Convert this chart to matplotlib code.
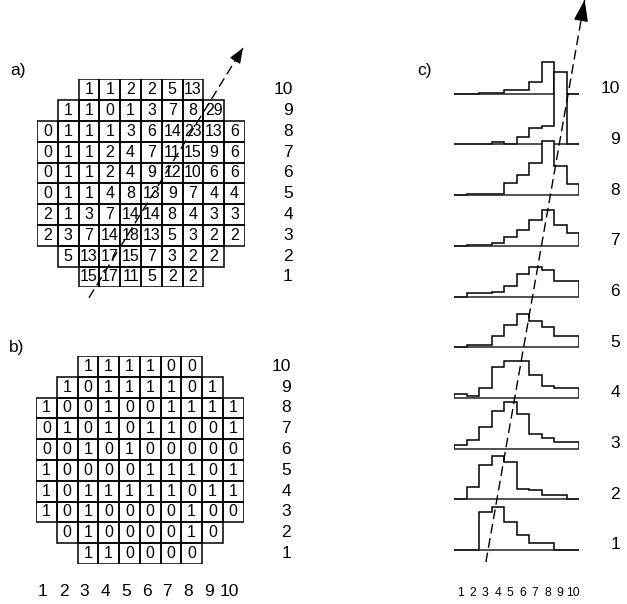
import matplotlib
matplotlib.use('Agg')
import matplotlib.pyplot as plt
from matplotlib.patches import Rectangle
import numpy as np

plt.rcParams['font.family'] = ['Liberation Sans', 'DejaVu Sans']

# ---------------- data ----------------
rows = [10, 9, 8, 7, 6, 5, 4, 3, 2, 1]
row_start_col = [3, 2, 1, 1, 1, 1, 1, 1, 2, 3]

grid_a = [
    [1, 1, 2, 2, 5, 13],
    [1, 1, 0, 1, 3, 7, 8, 29],
    [0, 1, 1, 1, 3, 6, 14, 23, 13, 6],
    [0, 1, 1, 2, 4, 7, 11, 15, 9, 6],
    [0, 1, 1, 2, 4, 9, 12, 10, 6, 6],
    [0, 1, 1, 4, 8, 13, 9, 7, 4, 4],
    [2, 1, 3, 7, 14, 14, 8, 4, 3, 3],
    [2, 3, 7, 14, 18, 13, 5, 3, 2, 2],
    [5, 13, 17, 15, 7, 3, 2, 2],
    [15, 17, 11, 5, 2, 2],
]

grid_b = [
    [1, 1, 1, 1, 0, 0],
    [1, 0, 1, 1, 1, 1, 0, 1],
    [1, 0, 0, 1, 0, 0, 1, 1, 1, 1],
    [0, 1, 0, 1, 0, 1, 1, 0, 0, 1],
    [0, 0, 1, 0, 1, 0, 0, 0, 0, 0],
    [1, 0, 0, 0, 0, 1, 1, 1, 0, 1],
    [1, 0, 1, 1, 1, 1, 1, 0, 1, 1],
    [1, 0, 1, 0, 0, 0, 0, 1, 0, 0],
    [0, 1, 0, 0, 0, 0, 1, 0],
    [1, 1, 0, 0, 0, 0],
]

col_labels = ['1', '2', '3', '4', '5', '6', '7', '8', '9', '10']
row_labels = ['10', '9', '8', '7', '6', '5', '4', '3', '2', '1']

# histogram heights (panel c), per row 10..1, bins 1..10
hist_counts = [
    [0, 0, 0.3, 0.3, 1.6, 1.6, 4.7, 12.7, 0, 0],
    [0, 0.3, 0.3, 1.1, 0, 3.1, 6.4, 7.3, 29.1, 0],
    [0, 0.3, 0.3, 0.3, 4.7, 8.0, 12.9, 21.6, 11.7, 4.3],
    [0, 0.3, 0.3, 1.3, 3.6, 6.3, 10.3, 14.5, 8.5, 5.2],
    [0, 1.3, 1.3, 2.0, 4.3, 9.1, 11.7, 10.7, 6.4, 6.4],
    [0, 0.9, 0.9, 4.3, 8.7, 13.3, 10.3, 8.0, 4.3, 4.3],
    [1.6, 0.9, 4.0, 12.3, 14.9, 14.9, 9.2, 4.9, 4.0, 4.0],
    [1.3, 3.3, 8.7, 15.1, 18.7, 14.0, 6.0, 4.4, 2.7, 2.7],
    [0, 4.9, 13.6, 17.2, 14.9, 4.3, 3.6, 1.9, 1.9, 0],
    [0, 0, 15.3, 17.3, 11.3, 6.0, 2.7, 2.7, 0, 0],
]

arrow_a = [(3.0, 0.0), (10.4, 12.0)]
arrow_c = [(3.05, 0.76), (10.95, 11.85)]

# ---------------- figure ----------------
W, H = 627, 604
fig = plt.figure(figsize=(W / 100, H / 100), dpi=100)
fig.patch.set_facecolor('white')


def px_axes(left, top, right, bottom):
    ax = fig.add_axes([left / W, 1 - bottom / H, (right - left) / W, (bottom - top) / H])
    ax.set_axis_off()
    return ax


LW = 1.1
DASH = (0, (7, 3.5))


def draw_grid(ax, grid, fs):
    ax.set_xlim(0.5, 10.5)
    ax.set_ylim(0.5, 10.5)
    for r, c0, vals in zip(rows, row_start_col, grid):
        for i, v in enumerate(vals):
            c = c0 + i
            ax.add_patch(Rectangle((c - 0.5, r - 0.5), 1, 1, fill=False,
                                   edgecolor='black', lw=LW, zorder=2))
            ax.text(c, r, str(v), ha='center', va='center', fontsize=fs, zorder=3)
    for r, lab in zip(rows, row_labels):
        ax.text(12.8, r, lab, ha='right', va='center', fontsize=12.5, clip_on=False)


# panel a
ax_a = px_axes(37, 79.3, 245, 287.3)
draw_grid(ax_a, grid_a, 11.5)
(x0, y0), (x1, y1) = arrow_a
ax_a.plot([x0, x1], [y0, y1], color='black', lw=1.0, ls=DASH, clip_on=False, zorder=5)
ax_a.annotate('', xy=(x1, y1), xytext=(x1 - (x1 - x0) * 0.02, y1 - (y1 - y0) * 0.02),
              arrowprops=dict(arrowstyle='-|>,head_length=0.5,head_width=0.2',
                              mutation_scale=18, color='black', lw=1,
                              shrinkA=0, shrinkB=0),
              annotation_clip=False, zorder=6)

# panel b
ax_b = px_axes(36, 356, 243.5, 564)
draw_grid(ax_b, grid_b, 11.5)
for k, lab in enumerate(col_labels):
    ax_b.text(k + 1 - 0.17, -0.8, lab, ha='center', va='center', fontsize=12.5, clip_on=False)

# panel c
ax_c = px_axes(454, 2.44, 579, 600.7)
ax_c.set_xlim(0.5, 10.5)
ax_c.set_ylim(0.0, 11.8)
scale = 2.5 / 50.7
edges = np.arange(0.5, 11.0, 1.0)
for r, lab, h in zip(rows, row_labels, hist_counts):
    z = 20 - 2 * r
    vals = r + np.array(h) * scale
    ax_c.stairs(vals, edges, baseline=r, fill=True, facecolor='white',
                edgecolor='none', zorder=z)
    ax_c.stairs(vals, edges, baseline=r, fill=False, color='black', lw=LW, zorder=z + 0.5)
    ax_c.plot([0.5, 10.5], [r, r], color='#222222', lw=LW, zorder=z + 0.6,
              solid_capstyle='butt')
    ax_c.text(13.78, r + 0.1, lab, ha='right', va='center', fontsize=12.5, clip_on=False)
for k, lab in enumerate(col_labels):
    ax_c.text(k + 1, 0.16, lab, ha='center', va='center', fontsize=8.8, clip_on=False)
(x0, y0), (x1, y1) = arrow_c
ax_c.plot([x0, x1], [y0, y1], color='black', lw=1.0, ls=DASH, clip_on=False, zorder=40)
ax_c.annotate('', xy=(x1, y1), xytext=(x1 - (x1 - x0) * 0.02, y1 - (y1 - y0) * 0.02),
              arrowprops=dict(arrowstyle='-|>,head_length=0.6,head_width=0.2',
                              mutation_scale=22, color='black', lw=1,
                              shrinkA=0, shrinkB=0),
              annotation_clip=False, zorder=41)

# panel letters
fig.text(18 / W, 1 - 70 / H, 'a)', ha='center', va='center', fontsize=12.5)
fig.text(17 / W, 1 - 348 / H, 'b)', ha='center', va='center', fontsize=12.5)
fig.text(425 / W, 1 - 70 / H, 'c)', ha='center', va='center', fontsize=12.5)

fig.savefig('out.png', dpi=100, facecolor='white')
